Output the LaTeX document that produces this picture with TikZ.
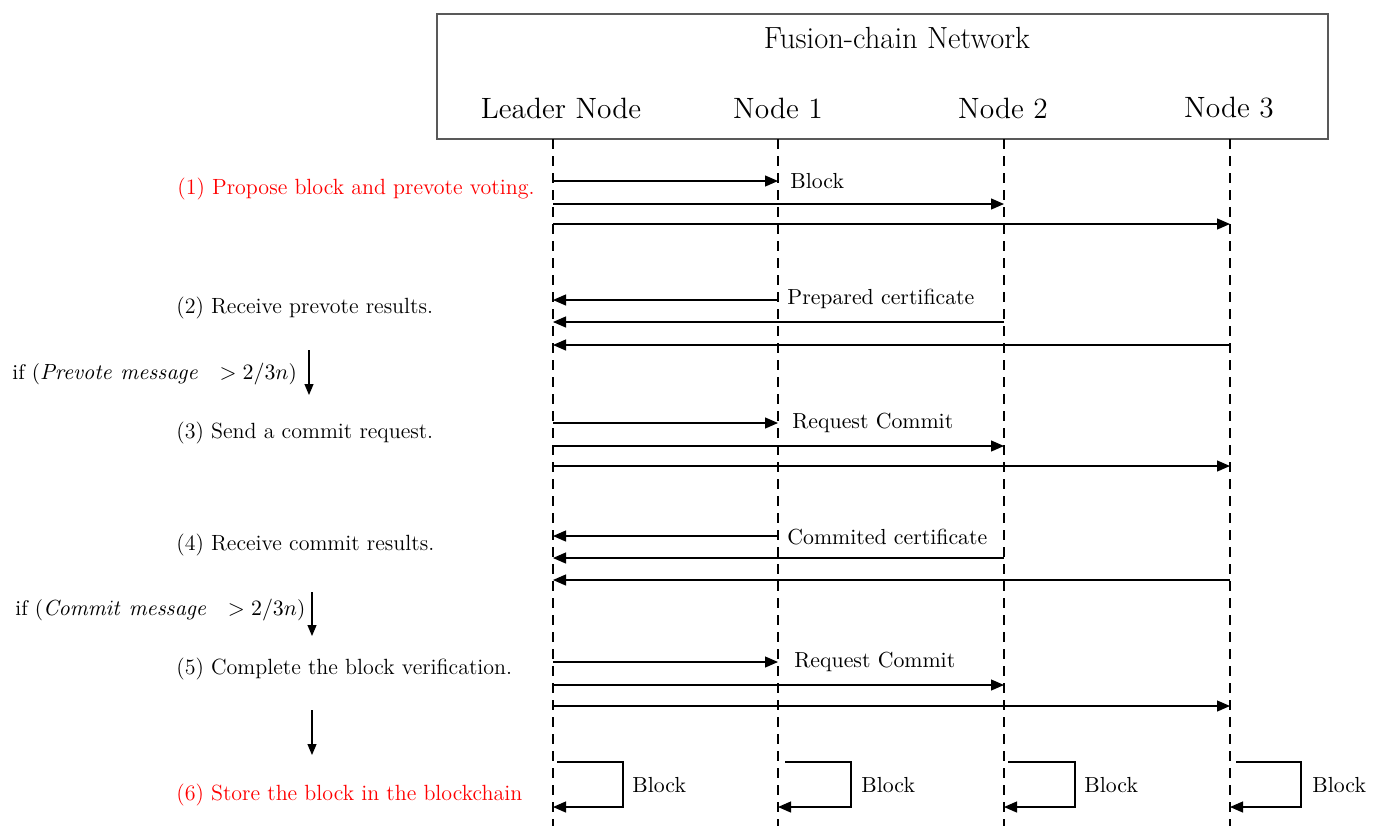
\documentclass[tikz,border=0pt]{standalone}
\usetikzlibrary{arrows.meta}
\begin{document}
\begin{tikzpicture}[x=0.5pt,y=-0.5pt,
  lifeline/.style={line width=0.75pt, dash pattern=on 5pt off 3.5pt},
  msg/.style={line width=0.6pt, -{Triangle[length=6.5pt,width=5.5pt]}},
  flow/.style={line width=0.6pt, -{Triangle[length=5.5pt,width=4.5pt]}},
  hdr/.style={font=\fontsize{14.7}{17}\selectfont, inner sep=0pt},
  lbl/.style={font=\fontsize{11}{13}\selectfont, inner sep=0pt, anchor=west},
  mlbl/.style={font=\fontsize{10.9}{12}\selectfont, inner sep=0pt, anchor=west}]
\useasboundingbox (0,0) rectangle (1383,826);
% title box
\node[draw=gray!70!black, line width=1pt, minimum width=445.5pt, minimum height=62.5pt, anchor=north west, inner sep=0pt] (box) at (436,13) {};
\node[hdr, font=\fontsize{15.3}{17}\selectfont] (title) at (897,38) {Fusion-chain Network};
\node[hdr] (hL) at (561,108) {Leader Node};
\node[hdr] (h1) at (778,108) {Node 1};
\node[hdr] (h2) at (1003,108) {Node 2};
\node[hdr] (h3) at (1229,108) {Node 3};
% lifelines
\coordinate (L) at (553,139); \coordinate (Lb) at (553,826);
\coordinate (A) at (778,139); \coordinate (Ab) at (778,826);
\coordinate (B) at (1004,139); \coordinate (Bb) at (1004,826);
\coordinate (C) at (1230,139); \coordinate (Cb) at (1230,826);
\draw[lifeline] (L) -- (Lb);
\draw[lifeline] (A) -- (Ab);
\draw[lifeline] (B) -- (Bb);
\draw[lifeline] (C) -- (Cb);
% rows
\foreach \n/\y in {a1/181,a2/204,a3/224,b1/300,b2/322,b3/345,c1/423,c2/446,c3/466,d1/536,d2/558,d3/580,e1/662,e2/685,e3/706}
  \coordinate (\n) at (0,\y);
% group 1
\draw[msg] (L|-a1) -- (A|-a1);
\draw[msg] (L|-a2) -- (B|-a2);
\draw[msg] (L|-a3) -- (C|-a3);
\node[mlbl] (m1) at (790,181) {Block};
% group 2
\draw[msg] (A|-b1) -- (L|-b1);
\draw[msg] (B|-b2) -- (L|-b2);
\draw[msg] (C|-b3) -- (L|-b3);
\node[mlbl] (m2) at (787,299) {Prepared certificate};
% group 3
\draw[msg] (L|-c1) -- (A|-c1);
\draw[msg] (L|-c2) -- (B|-c2);
\draw[msg] (L|-c3) -- (C|-c3);
\node[mlbl] (m3) at (792,423) {Request Commit};
% group 4
\draw[msg] (A|-d1) -- (L|-d1);
\draw[msg] (B|-d2) -- (L|-d2);
\draw[msg] (C|-d3) -- (L|-d3);
\node[mlbl] (m4) at (787,537) {Commited certificate};
% group 5
\draw[msg] (L|-e1) -- (A|-e1);
\draw[msg] (L|-e2) -- (B|-e2);
\draw[msg] (L|-e3) -- (C|-e3);
\node[mlbl] (m5) at (794,662) {Request Commit};
% self loops
\coordinate (s1) at (0,762); \coordinate (s2) at (0,807);
\draw[msg] ([xshift=2pt]L|-s1) -- ++(66,0) |- (L|-s2);
\node[mlbl] (sb0) at (632,785) {Block};
\draw[msg] ([xshift=3.5pt]A|-s1) -- ++(66,0) |- (A|-s2);
\node[mlbl] (sb1) at (861,785) {Block};
\draw[msg] ([xshift=2pt]B|-s1) -- ++(67,0) |- (B|-s2);
\node[mlbl] (sb2) at (1084,785) {Block};
\draw[msg] ([xshift=3pt]C|-s1) -- ++(65,0) |- (C|-s2);
\node[mlbl] (sb3) at (1312,785) {Block};
% left step labels
\node[lbl, text=red] (t1) at (177,189) {(1) Propose block and prevote voting.};
\node[lbl] (t2) at (176,308) {(2) Receive prevote results.};
\node[lbl] (t3) at (176,433) {(3) Send a commit request.};
\node[lbl] (t4) at (176,545) {(4) Receive commit results.};
\node[lbl] (t5) at (176,669) {(5) Complete the block verification.};
\node[lbl, text=red] (t6) at (176,795) {(6) Store the block in the blockchain};
\node[lbl, font=\fontsize{10.6}{12}\selectfont] (if1) at (12,374) {if ($\mathit{Prevote\ message}\ \ > 2/3n$)};
\node[lbl, font=\fontsize{10.6}{12}\selectfont] (if2) at (15,610) {if ($\mathit{Commit\ message}\ \ > 2/3n$)};
% flow arrows
\coordinate (f1a) at (309,350); \coordinate (f1b) at (309,395);
\coordinate (f2a) at (312,592); \coordinate (f2b) at (312,636);
\coordinate (f3a) at (312,710); \coordinate (f3b) at (312,755);
\draw[flow] (f1a) -- (f1b);
\draw[flow] (f2a) -- (f2b);
\draw[flow] (f3a) -- (f3b);
\end{tikzpicture}
\end{document}
